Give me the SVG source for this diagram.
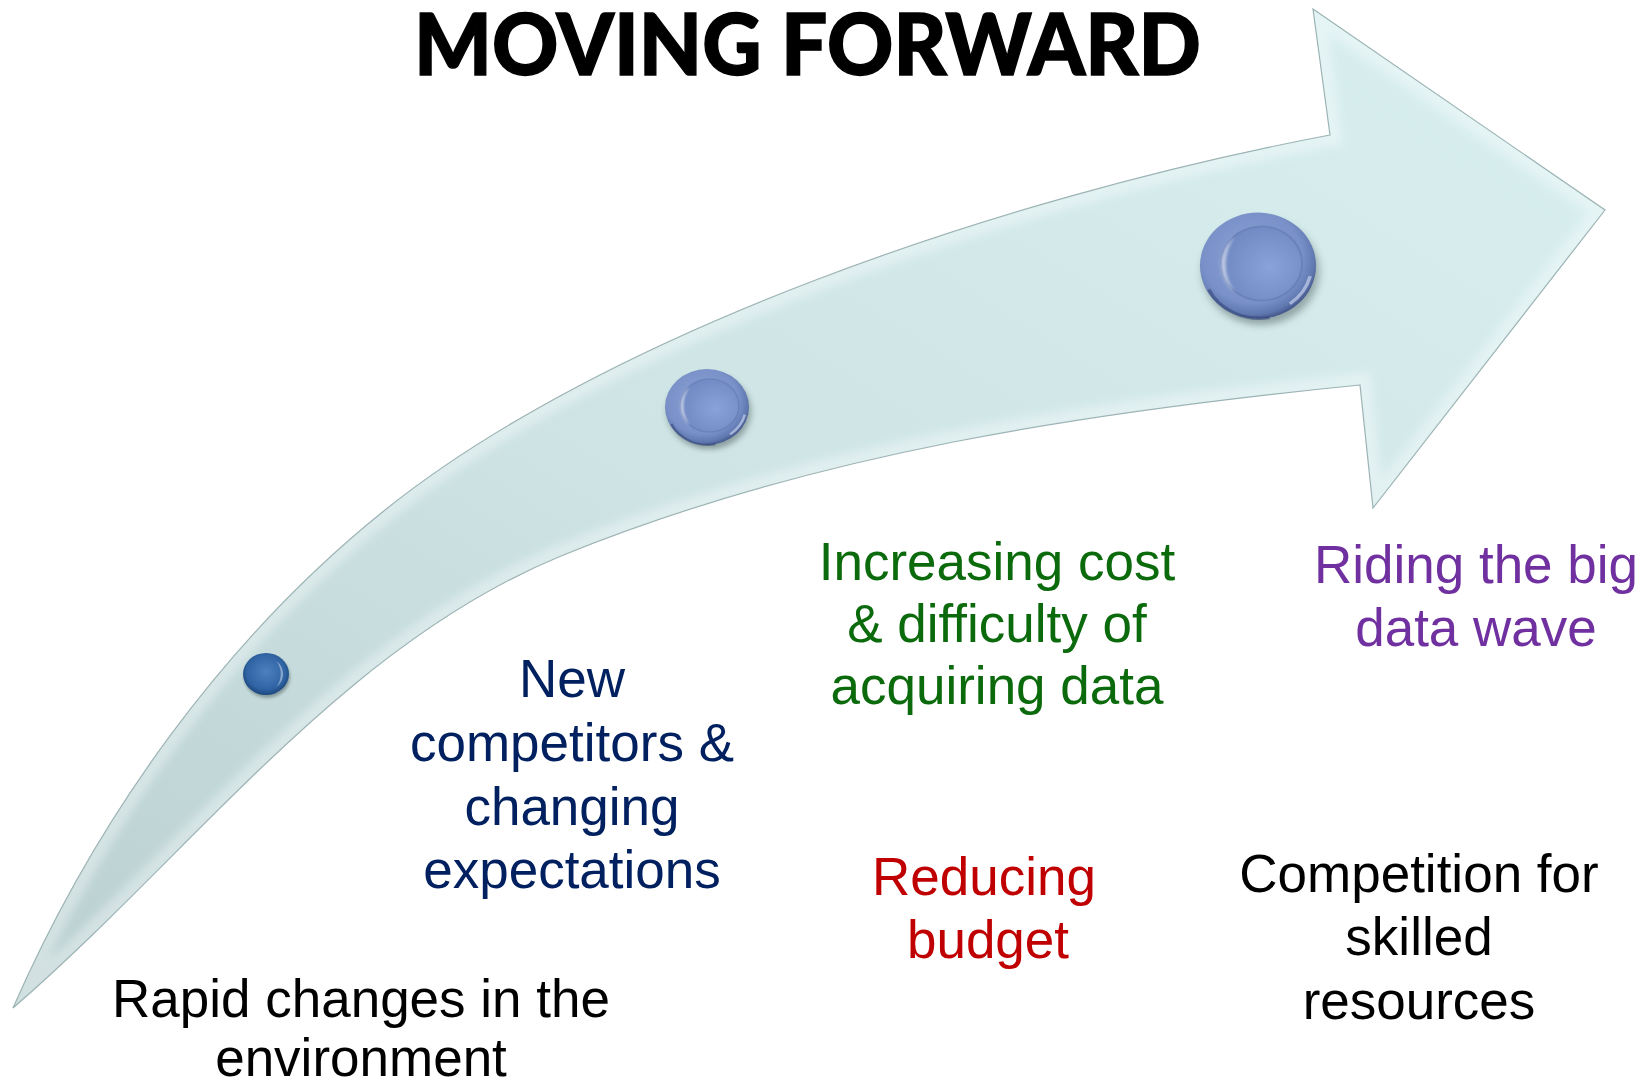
<svg xmlns="http://www.w3.org/2000/svg" width="1652" height="1081" viewBox="0 0 1652 1081">
  <style>
    .title { font-family: Lato, "Open Sans", "Liberation Sans", sans-serif; font-weight: 900; font-size: 85px; fill: #000; stroke: #000; stroke-width: 1.4px; }
    .lbl { font-family: "Liberation Sans", Arial, sans-serif; font-size: 53px; text-anchor: middle; }
    .black { fill: #000000; }
    .navy { fill: #002060; }
    .green { fill: #0b6a0b; }
    .red { fill: #c00000; }
    .purple { fill: #7030a0; }
  </style>
  <defs>
    <linearGradient id="arrowFill" x1="0" y1="1" x2="1" y2="0">
      <stop offset="0" stop-color="#b9cfd0"/>
      <stop offset="0.45" stop-color="#cde3e4"/>
      <stop offset="1" stop-color="#d9f0f1"/>
    </linearGradient>
    <path id="arrowShape" d="M 13,1008 C 96,818 224,639 385,510 C 603,335 997,198 1330,135 L 1313,9 L 1605,210 L 1373,508 L 1360,385 C 1089,412 813,453 561,556 C 342,646 192,853 13,1008 Z"/>
    <clipPath id="arrowClip"><use href="#arrowShape"/></clipPath>
    <filter id="soft" x="-20%" y="-20%" width="140%" height="140%"><feGaussianBlur stdDeviation="4"/></filter>
    <filter id="btnBlur" x="-50%" y="-50%" width="200%" height="200%"><feGaussianBlur stdDeviation="0.07"/></filter>
    <filter id="hiBlur" x="-50%" y="-50%" width="200%" height="200%"><feGaussianBlur stdDeviation="0.03"/></filter>

    <!-- periwinkle button -->
    <radialGradient id="rimLight" cx="0.45" cy="0.42" r="0.6">
      <stop offset="0" stop-color="#8ea5d9"/>
      <stop offset="0.72" stop-color="#7990c8"/>
      <stop offset="0.9" stop-color="#6078b0"/>
      <stop offset="1" stop-color="#3e5184"/>
    </radialGradient>
    <radialGradient id="discLight" cx="0.6" cy="0.55" r="0.6">
      <stop offset="0" stop-color="#89a2d8"/>
      <stop offset="1" stop-color="#7089c2"/>
    </radialGradient>
    <!-- deep blue button -->
    <radialGradient id="rimDark" cx="0.5" cy="0.45" r="0.6">
      <stop offset="0" stop-color="#4d80bf"/>
      <stop offset="0.7" stop-color="#2f63a3"/>
      <stop offset="1" stop-color="#173c6e"/>
    </radialGradient>

    <symbol id="btnLight" viewBox="-1.2 -1.2 2.4 2.5" preserveAspectRatio="none" overflow="visible">
      <ellipse cx="0.05" cy="0.12" rx="1" ry="1" fill="#33413f" opacity="0.4" filter="url(#btnBlur)"/>
      <circle cx="0" cy="0" r="1" fill="url(#rimLight)"/>
      <circle cx="0.06" cy="-0.04" r="0.7" fill="url(#discLight)" stroke="#5a71a8" stroke-width="0.035" stroke-opacity="0.45"/>
      <path d="M -0.40,-0.55 A 0.7 0.7 0 0 0 -0.40,0.50 A 0.95 0.95 0 0 1 -0.40,-0.55 Z" fill="#ffffff" opacity="0.55" filter="url(#hiBlur)"/>
      <path d="M 0.55,0.72 A 0.93 0.93 0 0 0 0.9,0.2" fill="none" stroke="#d3def5" stroke-width="0.06" opacity="0.6"/>
      <path d="M -0.85,0.45 A 0.97 0.97 0 0 0 0.2,0.98" fill="none" stroke="#34467a" stroke-width="0.06" opacity="0.6"/>
    </symbol>

    <symbol id="btnDark" viewBox="-1.2 -1.2 2.4 2.5" preserveAspectRatio="none" overflow="visible">
      <ellipse cx="0.05" cy="0.14" rx="1" ry="1" fill="#33413f" opacity="0.4" filter="url(#btnBlur)"/>
      <circle cx="0" cy="0" r="1" fill="url(#rimDark)"/>
      <path d="M 0.45,-0.62 A 0.8 0.8 0 0 1 0.45,0.62 A 1.1 1.1 0 0 0 0.45,-0.62 Z" fill="#ffffff" opacity="0.4" filter="url(#hiBlur)"/>
    </symbol>
  </defs>

  <rect width="1652" height="1081" fill="#ffffff"/>

  <!-- curved arrow -->
  <g id="arrow">
    <use href="#arrowShape" fill="url(#arrowFill)"/>
    <g clip-path="url(#arrowClip)">
      <use href="#arrowShape" fill="none" stroke="#ffffff" stroke-opacity="0.35" stroke-width="24" filter="url(#soft)"/>
    </g>
    <use href="#arrowShape" fill="none" stroke="#9cb3b4" stroke-width="1.2"/>
  </g>

  <g id="connectors"></g>

  <!-- milestone buttons -->
  <g id="button-1"><use href="#btnDark" x="238.4" y="648.8" width="55.2" height="52.5"/></g>
  <g id="button-2"><use href="#btnLight" x="656.6" y="361.4" width="100.8" height="95"/></g>
  <g id="button-3"><use href="#btnLight" x="1188.4" y="202" width="139.2" height="132.5"/></g>

  <g id="title"><text class="title" x="414" y="75" textLength="787" lengthAdjust="spacingAndGlyphs">MOVING FORWARD</text></g>

  <g id="label-rapid-changes">
    <text class="lbl black" x="361" y="1017">Rapid changes in the</text>
    <text class="lbl black" x="361" y="1076">environment</text>
  </g>
  <g id="label-new-competitors">
    <text class="lbl navy" x="572" y="697">New</text>
    <text class="lbl navy" x="572" y="761">competitors &amp;</text>
    <text class="lbl navy" x="572" y="825">changing</text>
    <text class="lbl navy" x="572" y="888">expectations</text>
  </g>
  <g id="label-increasing-cost">
    <text class="lbl green" x="997" y="580">Increasing cost</text>
    <text class="lbl green" x="997" y="642">&amp; difficulty of</text>
    <text class="lbl green" x="997" y="704">acquiring data</text>
  </g>
  <g id="label-reducing-budget">
    <text class="lbl red" x="984" y="895">Reducing</text>
    <text class="lbl red" x="988" y="958">budget</text>
  </g>
  <g id="label-big-data-wave">
    <text class="lbl purple" x="1476" y="583">Riding the big</text>
    <text class="lbl purple" x="1476" y="646">data wave</text>
  </g>
  <g id="label-competition">
    <text class="lbl black" x="1419" y="892">Competition for</text>
    <text class="lbl black" x="1419" y="955">skilled</text>
    <text class="lbl black" x="1419" y="1019">resources</text>
  </g>
</svg>
